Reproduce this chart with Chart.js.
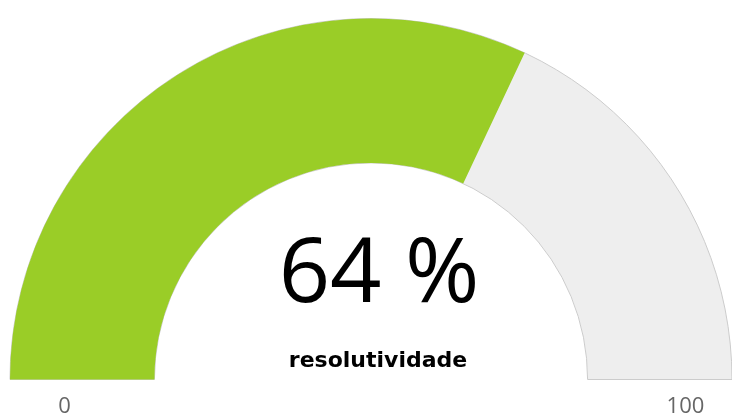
<!DOCTYPE html>
<html>
<head>
<meta charset="utf-8">
<script src="https://cdn.jsdelivr.net/npm/chart.js@4"></script>
<style>
  html, body { margin: 0; padding: 0; background: #fff; }
  #wrap { width: 732px; height: 417px; }
</style>
</head>
<body>
<div id="wrap"><canvas id="gauge" width="732" height="417"></canvas></div>
<script>
const gaugeMin = 0;
const gaugeMax = 100;
const gaugeValue = 64;
const tickLabels = ["0", "100"];
const valueLabel = "64 %";
const seriesName = "resolutividade";

// draws the grey pane behind the arc, the centre text and the min/max labels
const gaugePane = {
  id: "gaugePane",
  beforeDatasetsDraw(chart) {
    const arc = chart.getDatasetMeta(0).data[0];
    if (!arc) return;
    const { x, y, innerRadius, outerRadius } = arc.getProps(["x", "y", "innerRadius", "outerRadius"], true);
    const ctx = chart.ctx;
    ctx.save();
    ctx.beginPath();
    ctx.arc(x, y, outerRadius, Math.PI, 2 * Math.PI);
    ctx.arc(x, y, innerRadius, 2 * Math.PI, Math.PI, true);
    ctx.closePath();
    ctx.fillStyle = "#eeeeee";
    ctx.fill();
    ctx.lineWidth = 1;
    ctx.strokeStyle = "#cccccc";
    ctx.stroke();
    ctx.restore();
  },
  afterDatasetsDraw(chart) {
    const arc = chart.getDatasetMeta(0).data[0];
    if (!arc) return;
    const { x, y, innerRadius, outerRadius } = arc.getProps(["x", "y", "innerRadius", "outerRadius"], true);
    const ctx = chart.ctx;
    ctx.save();
    ctx.textAlign = "center";
    ctx.textBaseline = "alphabetic";
    ctx.fillStyle = "#000";
    ctx.font = "90px 'Open Sans'";
    ctx.fillText(valueLabel, x + 8, y - 78);
    ctx.font = "bold 22px 'DejaVu Sans'";
    ctx.fillText(seriesName, x + 7, y - 13);

    const labelR = innerRadius + (outerRadius - innerRadius) * 0.65;
    ctx.fillStyle = "#666";
    ctx.font = "22px 'Open Sans'";
    ctx.fillText(tickLabels[0], x - labelR + 4, y + 33);
    ctx.fillText(tickLabels[1], x + labelR + 4, y + 33);
    ctx.restore();
  }
};

new Chart(document.getElementById("gauge"), {
  type: "doughnut",
  data: {
    labels: ["valor", "resto"],
    datasets: [{
      data: [gaugeValue - gaugeMin, gaugeMax - gaugeValue],
      backgroundColor: ["#9acd27", "rgba(0,0,0,0)"],
      borderWidth: 0,
      hoverOffset: 0,
      offset: 0
    }]
  },
  options: {
    responsive: false,
    animation: false,
    events: [],
    rotation: -90,
    circumference: 180,
    cutout: "60%",
    layout: { padding: { left: 10, right: 0, top: 17, bottom: 36 } },
    plugins: {
      legend: { display: false },
      tooltip: { enabled: false }
    }
  },
  plugins: [gaugePane]
});
</script>
</body>
</html>
